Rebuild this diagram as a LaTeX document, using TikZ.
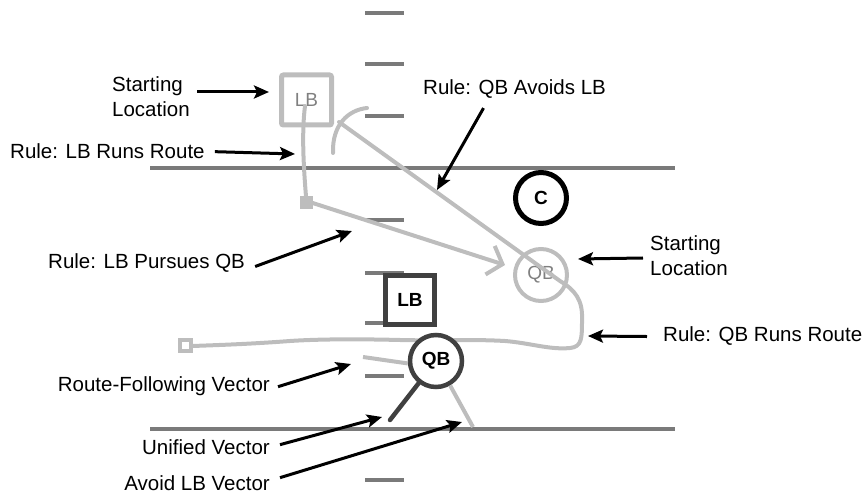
\documentclass[tikz,border=0pt]{standalone}
\usepackage{fontspec}
\setmainfont{Liberation Sans}
\usetikzlibrary{arrows.meta}
\definecolor{fieldgray}{HTML}{7A7A7A}
\definecolor{pathgray}{HTML}{BDBDBD}
\definecolor{darkgray}{HTML}{404040}
\tikzset{
  hashmark/.style={fieldgray, line width=4pt},
  fieldline/.style={fieldgray, line width=4pt},
  pathlight/.style={pathgray, line width=4pt, line join=round, line cap=round},
  callout/.style={black, line width=3pt, -{Stealth[length=15pt,width=13pt,inset=3pt]}},
  lbl/.style={inner sep=0pt, font=\fontsize{20.5}{25}\selectfont, align=left},
}
\begin{document}
\begin{tikzpicture}[x=1pt,y=-1pt]
\useasboundingbox (0,0) rectangle (863,494);

% yard hash marks
\foreach \yy in {13,64,116,220,273,323,376,480}
  \draw[hashmark] (365,\yy) -- (404,\yy);

% field boundary lines
\draw[fieldline] (150,168) -- (675,168);
\draw[fieldline] (150,429) -- (675,429);

% linebacker starting box
\node[draw=pathgray, line width=5pt, rounded corners=2pt, minimum size=50pt, inner sep=0pt,
      text=gray, font=\fontsize{19}{22}\selectfont] (lbstart) at (306.5,100) {LB};

% linebacker route and pursuit
\node[fill=pathgray, minimum size=13pt, inner sep=0pt] (lbturn) at (306,203) {};
\draw[pathlight] (305,106) .. controls (302,130) and (303,160) .. (lbturn.north);
\coordinate (pursuittip) at (505,265);
\draw[pathlight, -{Straight Barb[length=13pt,width=30pt,line width=4pt]}] (lbturn.east) -- (pursuittip);

% quarterback starting circle
\node[circle, draw=pathgray, line width=4pt, minimum size=52pt, inner sep=0pt,
      text=gray, font=\fontsize{19}{22}\selectfont] (qbstart) at (541,275) {QB};

% avoidance arc around the linebacker
\draw[pathlight] (367,108) .. controls (348,110) and (332,125) .. (333,153);

% quarterback avoid path and route
\node[draw=pathgray, line width=4pt, minimum size=11pt, inner sep=0pt, fill=white] (qbend) at (185,346) {};
\draw[pathlight] (339,122) -- (560,281)
  .. controls (575,290) and (583,300) .. (582,320)
  .. controls (582,338) and (582,347) .. (570,348)
  .. controls (550,350) and (530,343) .. (505,341)
  .. controls (470,339) and (440,341) .. (400,340)
  .. controls (360,339) and (320,339) .. (290,341)
  .. controls (250,344) and (220,345) .. (qbend.east);

% current linebacker
\node[draw=darkgray, line width=5pt, minimum size=49pt, inner sep=0pt, fill=white,
      font=\fontsize{19}{22}\selectfont\bfseries] (lbnow) at (410,300) {LB};

% current quarterback and its vectors
\node[circle, draw=darkgray, line width=4.5pt, minimum size=52pt, inner sep=0pt, fill=white,
      font=\fontsize{19}{22}\selectfont\bfseries] (qbnow) at (436,361) {QB};
\coordinate (routevec) at (363,357);
\coordinate (unifiedvec) at (390,420);
\coordinate (avoidvec) at (473,427);
\draw[pathlight, line cap=butt] (qbnow.185) -- (routevec);
\draw[darkgray, line width=4.5pt, line cap=round] (qbnow.232) -- (unifiedvec);
\draw[pathlight, line cap=butt] (qbnow.300) -- (avoidvec);

% center
\node[circle, draw=black, line width=5pt, minimum size=51pt, inner sep=0pt,
      font=\fontsize{19}{22}\selectfont\bfseries] (center) at (541,198) {C};

% labels
\node[lbl, anchor=west] (lblstartl) at (112,97) {Starting\\Location};
\node[lbl, anchor=base west] (lbllbroute) at (10,159) {Rule: LB Runs Route};
\node[lbl, anchor=base west] (lblavoid) at (423,95) {Rule: QB Avoids LB};
\node[lbl, anchor=base west] (lblpursue) at (48,269) {Rule: LB Pursues QB};
\node[lbl, anchor=west] (lblstartr) at (650,256) {Starting\\Location};
\node[lbl, anchor=base west] (lblqbroute) at (663,342) {Rule: QB Runs Route};
\node[lbl, anchor=base east] (lblrfv) at (270,392) {Route-Following Vector};
\node[lbl, anchor=base east] (lbluni) at (270,455) {Unified Vector};
\node[lbl, anchor=base east] (lblavoidv) at (270,490) {Avoid LB Vector};

% callout arrows
\coordinate (tipstartl) at (269,92);
\coordinate (tiplbroute) at (295,154);
\coordinate (tipavoid) at (437,190);
\coordinate (tippursue) at (352,231);
\coordinate (tipstartr) at (578,259);
\coordinate (tipqbroute) at (588,336);
\coordinate (tiprfv) at (351,364);
\coordinate (tipuni) at (382,417);
\coordinate (tipavoidv) at (462,422);
\draw[callout] ([xshift=85pt,yshift=5pt]lblstartl.west) -- (tipstartl);
\draw[callout] ([xshift=10pt]lbllbroute.east) -- (tiplbroute);
\draw[callout] ([xshift=-31pt,yshift=-9pt]lblavoid.south) -- (tipavoid);
\draw[callout] ([xshift=10pt,yshift=-3pt]lblpursue.east) -- (tippursue);
\draw[callout] ([xshift=-7pt,yshift=-2pt]lblstartr.west) -- (tipstartr);
\draw[callout] ([xshift=-16pt]lblqbroute.west) -- (tipqbroute);
\draw[callout] ([xshift=8pt]lblrfv.east) -- (tiprfv);
\draw[callout] ([xshift=10pt,yshift=3pt]lbluni.east) -- (tipuni);
\draw[callout] ([xshift=10pt,yshift=5pt]lblavoidv.east) -- (tipavoidv);
\end{tikzpicture}
\end{document}
